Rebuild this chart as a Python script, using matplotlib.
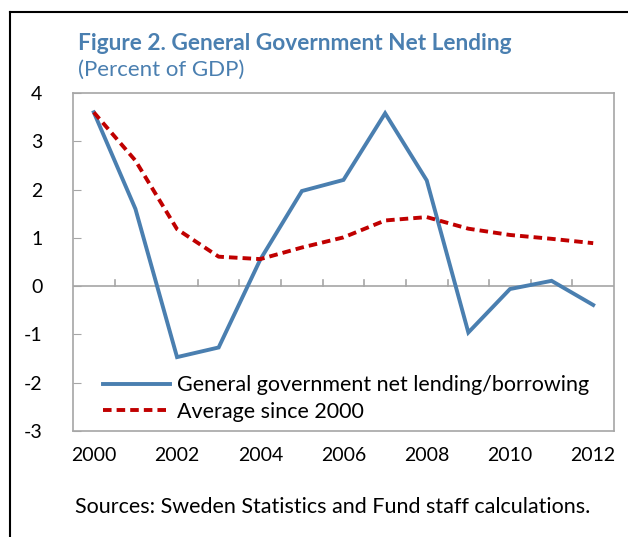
import numpy as np
import matplotlib
matplotlib.use("Agg")
import matplotlib.pyplot as plt
from matplotlib.lines import Line2D

plt.rcParams.update({"font.family": ["Lato", "DejaVu Sans"], "font.size": 13,
                     "axes.unicode_minus": False})

years = [2000, 2001, 2002, 2003, 2004, 2005, 2006, 2007, 2008, 2009, 2010, 2011, 2012]
net_lending = [3.6, 1.6, -1.47, -1.27, 0.55, 1.97, 2.2, 3.58, 2.19, -0.96, -0.06, 0.11, -0.39]
avg_since_2000 = [3.6, 2.6, 1.18, 0.61, 0.56, 0.8, 1.01, 1.36, 1.43, 1.19, 1.06, 0.98, 0.89]
yticks = [-3, -2, -1, 0, 1, 2, 3, 4]
xlabels = ["2000", "2002", "2004", "2006", "2008", "2010", "2012"]

BLUE = "#4a7fb0"
RED = "#c00000"
AXGREY = "#a6a6a6"

fig = plt.figure(figsize=(6.28, 5.37), dpi=100)
W, H = 628, 537
ax = fig.add_axes([73 / W, 1 - 431 / H, (614 - 73) / W, (431 - 93) / H])

ax.plot(years, net_lending, color=BLUE, lw=2.8, solid_joinstyle="miter",
        label="General government net lending/borrowing")
ax.plot(years, avg_since_2000, color=RED, lw=2.8, ls=(0, (2.2, 1.3)),
        label="Average since 2000")

ax.set_xlim(1999.5, 2012.5)
ax.set_ylim(-3, 4)
ax.set_yticks(yticks)
ax.set_xticks([])
for s in ax.spines.values():
    s.set_color(AXGREY)
    s.set_linewidth(1.2)
ax.tick_params(axis="y", direction="in", length=6, color=AXGREY, pad=22, labelsize=14)

# zero line with category tick marks
ax.axhline(0, color=AXGREY, lw=1.2, zorder=1)
for b in np.arange(2000.5, 2012.5, 1.0):
    ax.plot([b, b], [0, 0.12], color=AXGREY, lw=1.2, zorder=1)

# year labels below the plot
for lab in xlabels:
    ax.text(int(lab), -3.5, lab, ha="center", va="center", fontsize=14)

ax.legend(loc="lower left", bbox_to_anchor=(0.02, -0.03), frameon=False,
          fontsize=15.5, handlelength=3.1, handletextpad=0.35, labelspacing=0.3)

fig.text(78 / W, 1 - 43 / H, "Figure 2. General Government Net Lending",
         color=BLUE, fontsize=16.3, fontweight="bold", va="center")
fig.text(78 / W, 1 - 70 / H, "(Percent of GDP)", color=BLUE, fontsize=16, va="center")
fig.text(333 / W, 1 - 507 / H, "Sources: Sweden Statistics and Fund staff calculations.",
         ha="center", va="center", fontsize=15.5)

# outer frame (left and top)
fig.add_artist(Line2D([10 / W, 10 / W], [0, 1 - 12 / H], color="black", lw=1.5,
                      transform=fig.transFigure))
fig.add_artist(Line2D([10 / W, 1], [1 - 12 / H, 1 - 12 / H], color="black", lw=1.5,
                      transform=fig.transFigure))

fig.savefig("out.png", dpi=100)
